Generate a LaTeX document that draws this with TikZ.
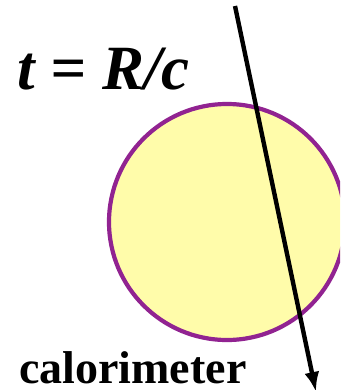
\documentclass[tikz,border=0pt]{standalone}
\usepackage{fontspec}
\setmainfont{Liberation Serif}
\usetikzlibrary{arrows.meta,positioning}
\definecolor{calpurple}{RGB}{145,35,145}
\definecolor{calyellow}{RGB}{255,252,170}
\tikzset{
  calo/.style={circle, draw=calpurple, fill=calyellow, line width=4.2pt, minimum size=236pt, inner sep=0pt},
  track/.style={-{Latex[length=20pt,width=15pt]}, line width=4.4pt},
  bigtext/.style={font=\bfseries\itshape\fontsize{63}{63}\selectfont, inner sep=0pt, anchor=base west},
  labeltext/.style={font=\bfseries\fontsize{46}{46}\selectfont, inner sep=0pt, text depth=0pt, anchor=base west}
}
\begin{document}
\begin{tikzpicture}[x=1pt,y=1pt]
\useasboundingbox (0,0) rectangle (340,-390);
\clip (0,0) rectangle (340,-390);
\node[calo] (cal) at (227,-222) {};
\node[bigtext] (time) at (17,-90) {t = R/c};
\node[labeltext] (name) at (19,-383) {calorimeter};
\coordinate (start) at (235,-6);
\coordinate (stop) at (316,-392);
\draw[track] (start) -- (stop);
\end{tikzpicture}
\end{document}
